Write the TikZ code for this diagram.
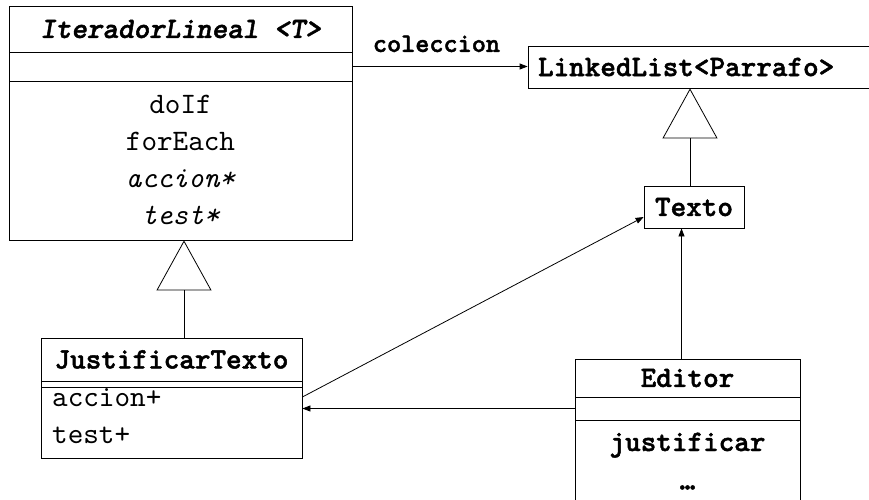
\documentclass[tikz,border=0pt]{standalone}
\usepackage{fontspec}
\setmonofont{lmmono10-regular.otf}[
  BoldFont=lmmonolt10-bold.otf,
  BoldFeatures={FakeBold=1.6},
  ItalicFont=lmmono10-italic.otf,
  BoldItalicFont=lmmonolt10-boldoblique.otf,
  BoldItalicFeatures={FakeBold=1.6}]
\usetikzlibrary{arrows.meta}
\tikzset{
  umlpart/.style={rectangle, draw=black, line width=0.8pt, inner sep=0pt},
  umlname/.style={umlpart, font=\ttfamily\bfseries\fontsize{29.7}{37}\selectfont},
  umltext/.style={inner sep=0pt, font=\ttfamily\fontsize{29.7}{37}\selectfont},
  umlbold/.style={umltext, font=\ttfamily\bfseries\fontsize{29.7}{37}\selectfont},
  rolename/.style={inner sep=0pt, font=\ttfamily\bfseries\fontsize{26.9}{30}\selectfont},
  assoc/.style={-{Triangle[length=8pt, width=6pt]}, line width=0.8pt, draw=black},
  inherit/.style={-{Triangle[open, length=50pt, width=55pt]}, line width=0.8pt, draw=black}
}

\begin{document}
\begin{tikzpicture}[x=1pt, y=-1pt]
  \useasboundingbox (0,0) rectangle (869,500);
  \clip (0,0) rectangle (869,500);

  \node[umlname, minimum width=343pt, minimum height=46pt] (iterName) at (180.5,29) {\itshape IteradorLineal <T>};
  \node[umlpart, minimum width=343pt, minimum height=29pt] (iterAttr) at (180.5,66.5) {};
  \node[umlpart, minimum width=343pt, minimum height=159pt] (iterOps) at (180.5,160.5) {};
  \node[umltext, anchor=base] (opDoIf) at (180.5,113.5) {doIf};
  \node[umltext, anchor=base] (opForEach) at (180.5,150.5) {forEach};
  \node[umltext, anchor=base] (opAccion) at (180.5,187.5) {\itshape accion*};
  \node[umltext, anchor=base] (opTest) at (180.5,224.5) {\itshape test*};

  \node[umlname, minimum width=372pt, minimum height=42pt, text width=352pt, align=left] (list) at (714,67) {LinkedList<Parrafo>};
  \node[umlname, minimum width=100pt, minimum height=42pt] (texto) at (694,207) {Texto};

  \node[umlname, minimum width=261pt, minimum height=43pt] (justName) at (171.5,359.5) {JustificarTexto};
  \node[umlpart, minimum width=261pt, minimum height=6pt] (justAttr) at (171.5,384) {};
  \node[umlpart, minimum width=261pt, minimum height=71pt] (justOps) at (171.5,422.5) {};
  \node[umltext, anchor=base west] (opAccionJ) at (52,406.5) {accion+};
  \node[umltext, anchor=base west] (opTestJ) at (52,443.5) {test+};

  \node[umlname, minimum width=225pt, minimum height=38pt] (editorName) at (687.5,378) {Editor};
  \node[umlpart, minimum width=225pt, minimum height=23pt] (editorAttr) at (687.5,408.5) {};
  \node[umlpart, minimum width=225pt, minimum height=90pt] (editorOps) at (687.5,465) {};
  \node[umlbold, anchor=base] (opJustificar) at (687.5,451) {justificar};
  \node[umlbold, anchor=base] (opMore) at (687.5,489.5) {…};

  \draw[assoc] (iterAttr.east) -- node[rolename, above=14pt, pos=0.48] (colLabel) {coleccion} (iterAttr.east -| list.west);
  \draw[inherit] ([xshift=12.5pt]justName.north) -- ([xshift=12.5pt]justName.north |- iterOps.south);
  \draw[inherit] ([xshift=-4pt]texto.north) -- ([xshift=-4pt]texto.north |- list.south);
  \draw[assoc] ([yshift=25.5pt]justOps.east) -- ([yshift=-10pt]texto.west);
  \draw[assoc] (editorAttr.west) -- (editorAttr.west -| justOps.east);
  \draw[assoc] ([xshift=-6pt]editorName.north) -- ([xshift=-6pt]editorName.north |- texto.south);
\end{tikzpicture}
\end{document}
